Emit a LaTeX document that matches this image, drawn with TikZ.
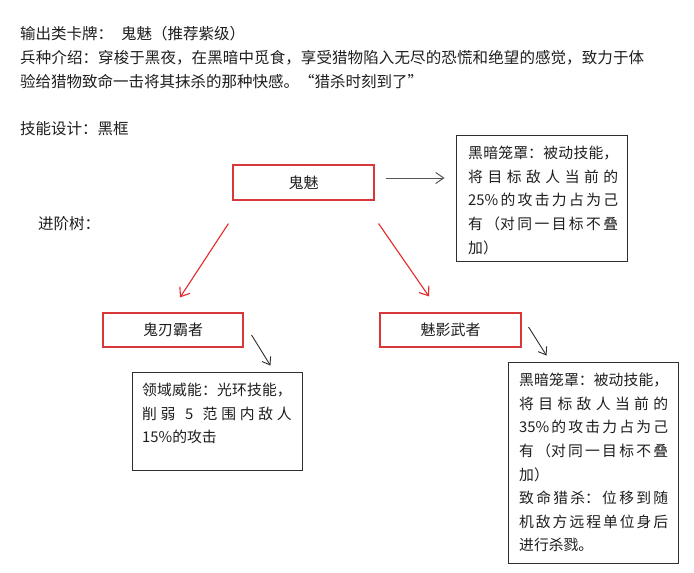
\documentclass[tikz,border=0pt]{standalone}
\usepackage{fontspec}
\setmainfont{Noto Sans CJK SC}
\usetikzlibrary{arrows.meta}
\XeTeXlinebreaklocale "zh"
\XeTeXlinebreakskip=0pt plus 1pt
\tolerance=10000
\hbadness=10000
\definecolor{txt}{HTML}{1E1E1E}
\definecolor{redbox}{HTML}{D8383A}
\definecolor{redarr}{HTML}{E42A2C}
\definecolor{grayarr}{HTML}{555555}
\definecolor{boxline}{HTML}{2E2E2E}
\tikzset{
  toptext/.style={anchor=base west, inner sep=0pt, text=txt, font=\fontsize{15.5}{24}\selectfont},
  namebox/.style={draw=redbox, line width=1.1pt, minimum width=#1, minimum height=34pt, inner sep=0pt, text=txt, font=\fontsize{15}{18}\selectfont},
  skillbox/.style={draw=boxline, line width=0.9pt, inner sep=0pt},
  skilltext/.style={anchor=base west, inner sep=0pt, text=txt, text width=#1, align=justify, font=\fontsize{14.8}{23.6}\selectfont},
  redarrow/.style={draw=redarr, line width=1.1pt, -{Straight Barb[length=8pt,width=12pt]}},
  grayarrow/.style={draw=grayarr, line width=1pt, -{Straight Barb[length=8pt,width=11pt]}},
  blackarrow/.style={draw=boxline, line width=0.9pt, -{Straight Barb[length=7pt,width=10pt]}}
}
\begin{document}
\begin{tikzpicture}[x=1pt,y=-1pt]
\useasboundingbox[fill=white] (0,0) rectangle (694,573);

% header text
\node[toptext] (l1) at (20,39) {输出类卡牌：\hspace{8pt}鬼魅（推荐紫级）};
\node[toptext, text width=624pt, align=justify] (l2) at (20,63)
  {兵种介绍：穿梭于黑夜，在黑暗中觅食，享受猎物陷入无尽的恐慌和绝望的感觉，致力于体\linebreak 验给猎物致命一击将其抹杀的那种快感。“猎杀时刻到了”};
\node[toptext] (l4) at (20,134) {技能设计：黑框};
\node[toptext] (l5) at (38,229) {进阶树：};

% tree boxes
\node[namebox=141pt, minimum height=35pt] (g) at (303.5,182.5) {鬼魅};
\node[namebox=140pt] (b1) at (173,330) {鬼刃霸者};
\node[namebox=141pt] (b2) at (450.5,330) {魅影武者};

% skill boxes
\node[skillbox, minimum width=171pt, minimum height=126pt] (s1) at (541.5,198) {};
\node[skilltext=150pt] (s1t) at (468,158.6)
  {黑暗笼罩：被动技能，\linebreak 将目标敌人当前的\linebreak 25\%的攻击力占为己\linebreak 有（对同一目标不叠\linebreak 加）};

\node[skillbox, minimum width=170pt, minimum height=98pt] (s2) at (217,421) {};
\node[skilltext=149.5pt] (s2t) at (142,395.6)
  {领域威能：光环技能，\linebreak 削弱 5 范围内敌人\linebreak 15\%的攻击};

\node[skillbox, minimum width=170pt, minimum height=201pt] (s3) at (593,462.5) {};
\node[skilltext=149pt] (s3t) at (519,385.6)
  {黑暗笼罩：被动技能，\linebreak 将目标敌人当前的\linebreak 35\%的攻击力占为己\linebreak 有（对同一目标不叠\linebreak 加）\par
   致命猎杀：位移到随\linebreak 机敌方远程单位身后\linebreak 进行杀戮。};

% connectors
\coordinate (ga) at ([xshift=11pt,yshift=4.5pt]g.east);
\draw[grayarrow, shorten >=11pt] (ga) -- (ga -| s1.west);

\draw[redarrow] ([xshift=-4pt,yshift=-23pt]g.south west) -- ([xshift=7pt,yshift=15pt]b1.north);
\draw[redarrow] ([xshift=4pt,yshift=-23pt]g.south east) -- ([xshift=-21.5pt,yshift=16pt]b2.north);

\draw[blackarrow] ([xshift=8pt,yshift=-5pt]b1.east) -- ([xshift=-32pt,yshift=6pt]s2.north east);
\draw[blackarrow] ([xshift=7pt,yshift=3pt]b2.east) -- ([xshift=39pt,yshift=6pt]s3.north west);
\end{tikzpicture}
\end{document}
